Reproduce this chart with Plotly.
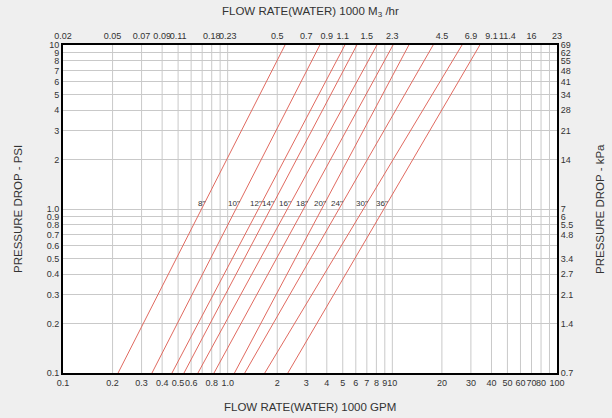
import plotly.graph_objects as go
import numpy as np

# ---- data ----
pipe_sizes = ['8"', '10"', '12"', '14"', '16"', '18"', '20"', '24"', '30"', '36"']
flow_at_10psi = [2.23, 3.63, 5.15, 6.09, 8.06, 10.1, 12.6, 17.7, 26.5, 34.0]     # 1000 GPM
flow_at_01psi = [0.216, 0.347, 0.459, 0.543, 0.66, 0.826, 1.1, 1.27, 1.68, 2.32]  # 1000 GPM
label_psi = 1.08

gpm_ticks = [0.1, 0.2, 0.3, 0.4, 0.5, 0.6, 0.8, 1.0, 2, 3, 4, 5, 6, 7, 8, 9, 10,
             20, 30, 40, 50, 60, 70, 80, 100]
gpm_labels = ["0.1", "0.2", "0.3", "0.4", "0.5", "0.6", "0.8", "1.0", "2", "3", "4", "5",
              "6", "7", "8", "9", "10", "20", "30", "40", "50", "60", "70", "80", "100"]
x_grid = [0.2, 0.3, 0.4, 0.5, 0.6, 0.7, 0.8, 0.9, 1, 2, 3, 4, 5, 6, 7, 8, 9,
          10, 20, 30, 40, 50, 60, 70, 80, 90]

m3_tick_pos = [0.1, 0.2, 0.3, 0.4, 0.5, 0.8, 1.0, 2, 3, 4, 5, 7, 10, 20, 30, 40, 50, 70, 100]
m3_labels = ["0.02", "0.05", "0.07", "0.09", "0.11", "0.18", "0.23", "0.5", "0.7", "0.9",
             "1.1", "1.5", "2.3", "4.5", "6.9", "9.1", "11.4", "16", "23"]

psi_ticks = [0.1, 0.2, 0.3, 0.4, 0.5, 0.6, 0.7, 0.8, 0.9, 1.0, 2, 3, 4, 5, 6, 7, 8, 9, 10]
psi_labels = ["0.1", "0.2", "0.3", "0.4", "0.5", "0.6", "0.7", "0.8", "0.9", "1.0",
              "2", "3", "4", "5", "6", "7", "8", "9", "10"]
kpa_tick_pos = [0.1, 0.2, 0.3, 0.4, 0.5, 0.7, 0.8, 0.9, 1.0, 2, 3, 4, 5, 6, 7, 8, 9, 10]
kpa_labels = ["0.7", "1.4", "2.1", "2.7", "3.4", "4.8", "5.5", "6", "7",
              "14", "21", "28", "34", "41", "48", "55", "62", "69"]

FONT = "Liberation Sans Narrow, Liberation Sans, Arial, sans-serif"
TFONT = "Liberation Sans, Arial, sans-serif"
TXT = "#333333"
GRID = "#c9c9c9"
RED = "#e06a60"
BG = "#efefef"

fig = go.Figure()

for g in x_grid:
    fig.add_shape(type="line", xref="x", yref="paper", x0=g, x1=g, y0=0, y1=1,
                  line=dict(color=GRID, width=1), layer="below")

for name, qt, qb in zip(pipe_sizes, flow_at_10psi, flow_at_01psi):
    fig.add_trace(go.Scatter(x=[qb, qt], y=[0.1, 10], mode="lines",
                             line=dict(color=RED, width=1), name=name,
                             showlegend=False, hoverinfo="skip"))
    f = (np.log10(label_psi) + 1) / 2
    qx = 10 ** (np.log10(qb) + f * (np.log10(qt) - np.log10(qb)))
    fig.add_annotation(x=np.log10(qx), y=np.log10(label_psi), xref="x", yref="y",
                       text=name, showarrow=False, xanchor="right", xshift=3,
                       font=dict(family=FONT, size=8, color=TXT))

fig.add_trace(go.Scatter(x=[0.1, 100], y=[0.1, 10], xaxis="x2", yaxis="y2",
                         mode="markers", marker=dict(opacity=0), showlegend=False,
                         hoverinfo="skip"))

axis_common = dict(type="log", showline=True, linecolor="black", linewidth=2,
                   ticks="", zeroline=False, automargin=False, tickangle=0,
                   tickfont=dict(family=FONT, size=9, color=TXT))

fig.update_layout(
    width=612, height=418,
    margin=dict(l=63, r=55, t=45, b=45, autoexpand=False),
    paper_bgcolor=BG, plot_bgcolor="white",
    showlegend=False,
    xaxis=dict(range=[-1, 2], tickvals=gpm_ticks, ticktext=gpm_labels,
               showgrid=False, mirror=True, **axis_common),
    yaxis=dict(range=[-1, 1], tickvals=psi_ticks, ticktext=psi_labels,
               showgrid=True, gridcolor=GRID, gridwidth=1, mirror=True, **axis_common),
    xaxis2=dict(range=[-1, 2], tickvals=m3_tick_pos, ticktext=m3_labels, overlaying="x",
                side="top", showgrid=False, **axis_common),
    yaxis2=dict(range=[-1, 1], tickvals=kpa_tick_pos, ticktext=kpa_labels, overlaying="y",
                side="right", showgrid=False, **axis_common),
)

ann_font = dict(family=TFONT, size=11.5, color=TXT)
fig.add_annotation(x=0.5, y=1, xref="paper", yref="paper", yshift=33, yanchor="middle",
                   text="FLOW RATE(WATER) 1000 M<sub>3</sub> /hr", showarrow=False, font=ann_font)
fig.add_annotation(x=0.5, y=0, xref="paper", yref="paper", yshift=-34, yanchor="middle",
                   text="FLOW RATE(WATER) 1000 GPM", showarrow=False, font=ann_font)
fig.add_annotation(x=0, y=0.5, xref="paper", yref="paper", xshift=-45, xanchor="center",
                   text="PRESSURE DROP - PSI", textangle=-90, showarrow=False, font=ann_font)
fig.add_annotation(x=1, y=0.5, xref="paper", yref="paper", xshift=43, xanchor="center",
                   text="PRESSURE DROP - kPa", textangle=-90, showarrow=False, font=ann_font)

fig.write_html("out.html", config={"displayModeBar": False},
               post_script="document.body.style.margin='0';"
                           "document.body.style.background='" + BG + "';")
